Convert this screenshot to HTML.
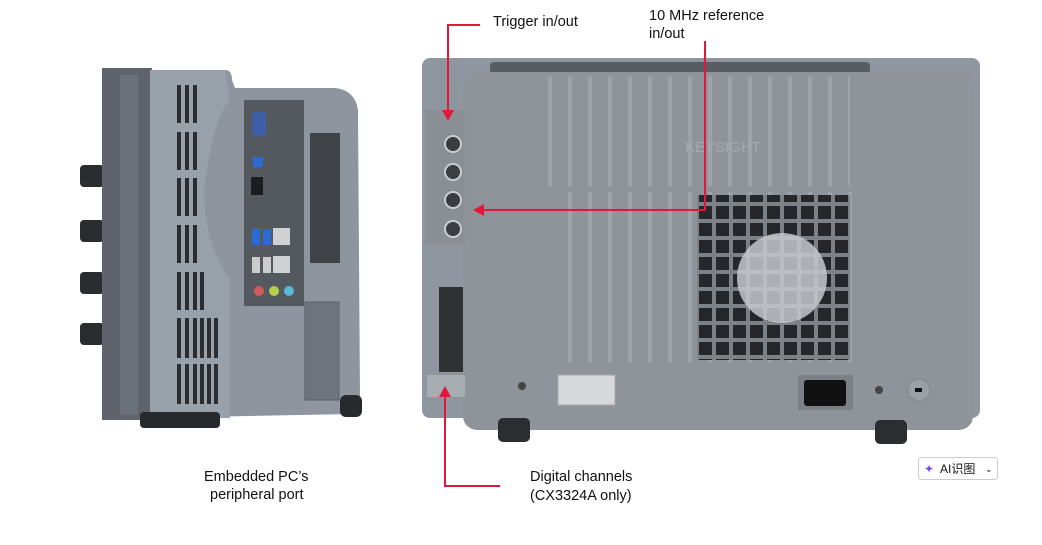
<!DOCTYPE html>
<html><head><meta charset="utf-8"><style>
html,body{margin:0;padding:0;background:#fff;width:1042px;height:545px;overflow:hidden}
svg{display:block}
text{font-family:"Liberation Sans","Noto Sans CJK SC",sans-serif;fill:#111}
</style></head><body>
<svg width="1042" height="545" viewBox="0 0 1042 545" xmlns="http://www.w3.org/2000/svg">
<defs>
<pattern id="grill" width="17" height="17" patternUnits="userSpaceOnUse"><rect width="17" height="17" fill="#7c8087"/><rect x="2" y="2" width="13" height="13" fill="#26272a"/></pattern>
<pattern id="ribs" width="20" height="10" patternUnits="userSpaceOnUse"><rect width="20" height="10" fill="#8f949b"/><rect x="8" width="4" height="10" fill="#9ea3a9"/></pattern>
</defs>
<!-- LEFT DEVICE -->
<rect x="80" y="165" width="24" height="22" rx="4" fill="#2a2c30"/>
<rect x="80" y="220" width="24" height="22" rx="4" fill="#2a2c30"/>
<rect x="80" y="272" width="24" height="22" rx="4" fill="#2a2c30"/>
<rect x="80" y="323" width="24" height="22" rx="4" fill="#2a2c30"/>
<rect x="102" y="68" width="50" height="352" fill="#5e636c"/>
<rect x="120" y="75" width="18" height="340" fill="#6b717a"/>
<path d="M150 70 L225 70 Q232 70 232 80 L235 88 L335 88 Q355 90 358 110 L360 398 Q360 412 350 414 L150 418 Z" fill="#8e959f"/>
<path d="M150 70 L225 70 L230 100 Q215 115 205 180 Q200 235 230 280 L230 418 L150 418 Z" fill="#98a0aa"/>
<g fill="#2b2d31">
<rect x="177" y="85" width="4" height="38"/><rect x="185" y="85" width="4" height="38"/><rect x="193" y="85" width="4" height="38"/>
<rect x="177" y="132" width="4" height="38"/><rect x="185" y="132" width="4" height="38"/><rect x="193" y="132" width="4" height="38"/>
<rect x="177" y="178" width="4" height="38"/><rect x="185" y="178" width="4" height="38"/><rect x="193" y="178" width="4" height="38"/>
<rect x="177" y="225" width="4" height="38"/><rect x="185" y="225" width="4" height="38"/><rect x="193" y="225" width="4" height="38"/>
<rect x="177" y="272" width="4" height="38"/><rect x="185" y="272" width="4" height="38"/><rect x="193" y="272" width="4" height="38"/><rect x="200" y="272" width="4" height="38"/>
<rect x="177" y="318" width="4" height="40"/><rect x="185" y="318" width="4" height="40"/><rect x="193" y="318" width="4" height="40"/><rect x="200" y="318" width="4" height="40"/><rect x="207" y="318" width="4" height="40"/><rect x="214" y="318" width="4" height="40"/>
<rect x="177" y="364" width="4" height="40"/><rect x="185" y="364" width="4" height="40"/><rect x="193" y="364" width="4" height="40"/><rect x="200" y="364" width="4" height="40"/><rect x="207" y="364" width="4" height="40"/><rect x="214" y="364" width="4" height="40"/>
</g>
<rect x="244" y="100" width="60" height="206" fill="#54585f"/>
<rect x="252" y="112" width="14" height="24" rx="3" fill="#3e5fa8"/>
<rect x="253" y="157" width="10" height="10" fill="#2c6bd1"/>
<rect x="251" y="177" width="12" height="18" fill="#1c1d20"/>
<rect x="252" y="229" width="8" height="16" fill="#2c6bd1"/><rect x="263" y="229" width="8" height="16" fill="#2c6bd1"/>
<rect x="273" y="228" width="17" height="17" fill="#cfd1d3"/>
<rect x="252" y="257" width="8" height="16" fill="#ccc"/><rect x="263" y="257" width="8" height="16" fill="#ccc"/>
<rect x="273" y="256" width="17" height="17" fill="#cfd1d3"/>
<circle cx="259" cy="291" r="5" fill="#d25a5a"/><circle cx="274" cy="291" r="5" fill="#b6d04a"/><circle cx="289" cy="291" r="5" fill="#5ab8d6"/>
<rect x="310" y="133" width="30" height="130" fill="#3f4247"/>
<rect x="305" y="302" width="34" height="98" fill="#6e747d" stroke="#5b6068"/>
<rect x="140" y="412" width="80" height="16" rx="4" fill="#27292c"/>
<rect x="340" y="395" width="22" height="22" rx="6" fill="#27292c"/>
<!-- RIGHT DEVICE -->
<rect x="422" y="58" width="558" height="360" rx="8" fill="#9096a0"/>
<rect x="490" y="62" width="380" height="14" rx="4" fill="#585c63"/>
<rect x="463" y="72" width="510" height="358" rx="14" fill="#8f949b"/>
<rect x="540" y="76" width="310" height="110" fill="url(#ribs)"/>
<rect x="560" y="192" width="300" height="170" fill="url(#ribs)"/>
<rect x="697" y="195" width="153" height="165" fill="url(#grill)"/>
<circle cx="782" cy="278" r="45" fill="#c5c8cc" opacity="0.85"/>
<rect x="425" y="110" width="40" height="135" fill="#8a8f96"/>
<g fill="#3a3d42" stroke="#c9ccd0" stroke-width="2">
<circle cx="453" cy="144" r="8"/><circle cx="453" cy="172" r="8"/><circle cx="453" cy="200" r="8"/><circle cx="453" cy="229" r="8"/>
</g>
<rect x="439" y="287" width="24" height="85" fill="#303236"/>
<rect x="427" y="375" width="38" height="22" fill="#a8adb3"/>
<text x="685" y="152" font-size="15" style="fill:#a6abb1">KEYSIGHT</text>
<rect x="558" y="375" width="57" height="30" fill="#d6d8da" stroke="#aaa"/>
<rect x="798" y="375" width="55" height="35" fill="#7c8087"/>
<rect x="804" y="380" width="42" height="26" rx="3" fill="#111"/>
<circle cx="522" cy="386" r="4" fill="#444"/><circle cx="879" cy="390" r="4" fill="#444"/>
<circle cx="919" cy="390" r="11" fill="#9aa0a7" stroke="#80858b"/><rect x="915" y="388" width="7" height="4" fill="#111"/>
<rect x="498" y="418" width="32" height="24" rx="5" fill="#2b2d31"/>
<rect x="875" y="420" width="32" height="24" rx="5" fill="#2b2d31"/>
<!-- red callouts -->
<g stroke="#e0193a" stroke-width="2" fill="none">
<polyline points="480,25 448,25 448,112"/>
<polyline points="705,41 705,210 482,210"/>
<polyline points="445,395 445,486 500,486"/>
</g>
<g fill="#e0193a">
<polygon points="442,110 454,110 448,121"/>
<polygon points="484,204 484,216 473,210"/>
<polygon points="439,397 451,397 445,386"/>
</g>
<text x="493" y="26" font-size="14.5">Trigger in/out</text>
<text x="649" y="20" font-size="14.5">10 MHz reference</text>
<text x="649" y="38" font-size="14.5">in/out</text>
<text x="204" y="481" font-size="14.5">Embedded PC’s</text>
<text x="210" y="499" font-size="14.5">peripheral port</text>
<text x="530" y="481" font-size="14.5">Digital channels</text>
<text x="530" y="500" font-size="14.5">(CX3324A only)</text>
<rect x="918.5" y="457.5" width="79" height="22" rx="3" fill="#fff" stroke="#ccc"/>
<text x="924" y="473" font-size="12" style="fill:#7b4cf0">✦</text>
<text x="940" y="473" font-size="12">AI识图</text>
<text x="985" y="472" font-size="9">⌄</text>
</svg>
</body></html>
